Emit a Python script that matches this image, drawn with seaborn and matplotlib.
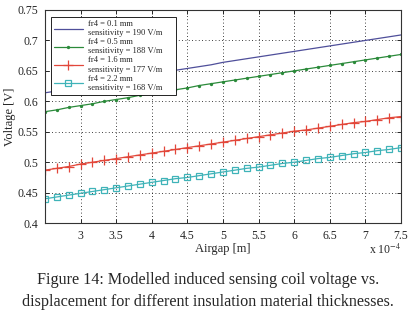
import numpy as np
import pandas as pd
import matplotlib
matplotlib.use("Agg")
import matplotlib.pyplot as plt
from matplotlib.ticker import MultipleLocator, FuncFormatter
import seaborn as sns

sns.set_style("ticks")
plt.rcParams['font.family'] = ['Liberation Serif', 'DejaVu Serif']
plt.rcParams['mathtext.fontset'] = 'stix'

# airgap samples [m]
airgap = np.linspace(2.5e-4, 7.5e-4, 31)

v_01 = [0.614, 0.617, 0.621, 0.624, 0.628, 0.631, 0.634, 0.638, 0.641, 0.644,
        0.647, 0.651, 0.654, 0.657, 0.660, 0.664, 0.667, 0.670, 0.673, 0.676,
        0.679, 0.682, 0.685, 0.688, 0.691, 0.694, 0.697, 0.700, 0.703, 0.706, 0.709]
v_05 = [0.583, 0.586, 0.590, 0.593, 0.596, 0.600, 0.603, 0.606, 0.610, 0.613,
        0.616, 0.619, 0.622, 0.626, 0.629, 0.632, 0.635, 0.638, 0.641, 0.644,
        0.647, 0.650, 0.653, 0.656, 0.659, 0.662, 0.665, 0.668, 0.671, 0.674, 0.677]
v_16 = [0.487, 0.490, 0.493, 0.497, 0.500, 0.503, 0.506, 0.509, 0.512, 0.515,
        0.518, 0.521, 0.524, 0.527, 0.530, 0.533, 0.536, 0.539, 0.542, 0.545,
        0.548, 0.551, 0.553, 0.556, 0.559, 0.562, 0.565, 0.567, 0.570, 0.573, 0.575]
v_22 = [0.440, 0.443, 0.446, 0.449, 0.452, 0.455, 0.458, 0.461, 0.464, 0.467,
        0.470, 0.473, 0.475, 0.478, 0.481, 0.484, 0.487, 0.490, 0.492, 0.495,
        0.498, 0.500, 0.503, 0.506, 0.508, 0.511, 0.514, 0.516, 0.519, 0.521, 0.524]

labels = ["fr4 = 0.1 mm\nsensitivity = 190 V/m",
          "fr4 = 0.5 mm\nsensitivity = 188 V/m",
          "fr4 = 1.6 mm\nsensitivity = 177 V/m",
          "fr4 = 2.2 mm\nsensitivity = 168 V/m"]
series = [v_01, v_05, v_16, v_22]

colors = ["#4f4f9a", "#2b8a3a", "#e2473a", "#3fb3b8"]
marker_map = ["None", "o", "+", "s"]
msizes = [0, 2.4, 7, 5]

fig = plt.figure(figsize=(4.16, 3.22), dpi=100)
ax = fig.add_axes([0.108, 0.307, 0.856, 0.662])

for y, lab, c in zip(series, labels, colors):
    df = pd.DataFrame({"airgap": airgap, "voltage": y})
    sns.lineplot(data=df, x="airgap", y="voltage", color=c, lw=0.9,
                 label=lab, ax=ax)

# per-series markers (plot lines and legend handles)
def tune(lines):
    for ln, c, ms, mk in zip(lines, colors, msizes, marker_map):
        ln.set_linestyle("-")
        ln.set_linewidth(0.9)
        ln.set_marker(mk)
        ln.set_markersize(ms)
        if mk == "s":
            ln.set_markerfacecolor("none")
            ln.set_markeredgecolor(c)
            ln.set_markeredgewidth(0.9)
        elif mk == "+":
            ln.set_markeredgecolor(c)
            ln.set_markeredgewidth(0.9)
        elif mk == "o":
            ln.set_markerfacecolor(c)
            ln.set_markeredgecolor(c)
            ln.set_markeredgewidth(0)

tune(ax.lines[:4])

ax.set_xlim(2.5e-4, 7.5e-4)
ax.set_ylim(0.4, 0.75)
ax.xaxis.set_major_locator(MultipleLocator(0.5e-4))
ax.yaxis.set_major_locator(MultipleLocator(0.05))
ax.xaxis.set_major_formatter(FuncFormatter(
    lambda v, p: "" if abs(v - 2.5e-4) < 1e-9 else "%g" % round(v * 1e4, 2)))
ax.yaxis.set_major_formatter(FuncFormatter(lambda v, p: "%g" % round(v, 2)))
ax.text(1.0, -0.093, r"x 10$^{-4}$", transform=ax.transAxes, ha="right",
        va="top", fontsize=8.5)

ax.grid(True, color="black", linestyle=(0, (1, 3)), linewidth=0.6)
ax.tick_params(direction="in", top=True, right=True, labelsize=8.5, length=3,
               width=0.7, pad=5)
for sp in ax.spines.values():
    sp.set_linewidth(0.8)
    sp.set_color("#333333")

ax.set_xlabel("Airgap [m]", fontsize=9, labelpad=1)
ax.set_ylabel("Voltage [V]", fontsize=9)
ax.yaxis.set_label_coords(-0.082, 0.5)

leg = ax.legend(loc="upper left", bbox_to_anchor=(0.017, 0.5, 0.351, 0.467),
                mode="expand", fontsize=6.1, frameon=True, fancybox=False,
                framealpha=1, edgecolor="black", borderpad=0.35,
                labelspacing=0.12, handlelength=3.4, handletextpad=0.6,
                borderaxespad=0)
leg.get_frame().set_linewidth(0.6)
tune(leg.get_lines())

fig.text(0.5, 0.131, "Figure 14: Modelled induced sensing coil voltage vs.",
         ha="center", va="center", fontsize=11.6)
fig.text(0.5, 0.062, "displacement for different insulation material thicknesses.",
         ha="center", va="center", fontsize=11.6)

fig.savefig("out.png", dpi=100)
